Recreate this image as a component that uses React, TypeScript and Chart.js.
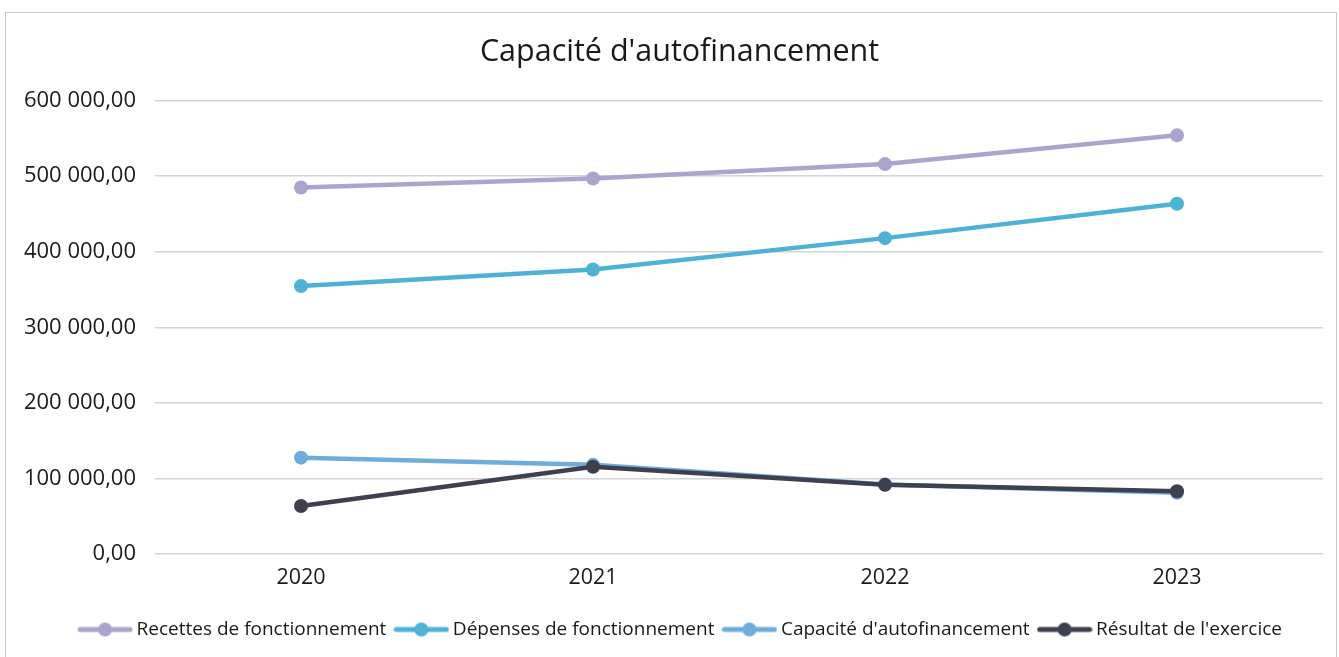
import React, { useEffect, useRef } from "react";
import { Chart, registerables } from "chart.js";

Chart.register(...registerables);

const categories = ["2020", "2021", "2022", "2023"];
const seriesNames = [
  "Recettes de fonctionnement",
  "Dépenses de fonctionnement",
  "Capacité d'autofinancement",
  "Résultat de l'exercice",
];
const recettes = [485000, 497000, 516000, 554000];
const depenses = [354500, 376500, 418000, 463500];
const capacite = [127500, 118000, 92000, 81000];
const resultat = [63500, 115500, 91500, 83000];
const yTicks = [0, 100000, 200000, 300000, 400000, 500000, 600000];
const colors = ["#aaa5cf", "#4eb2d6", "#6eaddb", "#3e4050"];

const FONT = "'Open Sans', 'DejaVu Sans', sans-serif";

function legendIcon(color: string) {
  const c = document.createElement("canvas");
  c.width = 56;
  c.height = 16;
  const ctx = c.getContext("2d")!;
  ctx.strokeStyle = color;
  ctx.lineWidth = 5;
  ctx.lineCap = "round";
  ctx.beginPath();
  ctx.moveTo(3, 8);
  ctx.lineTo(53, 8);
  ctx.stroke();
  ctx.fillStyle = color;
  ctx.beginPath();
  ctx.arc(28, 8, 7, 0, Math.PI * 2);
  ctx.fill();
  return c;
}

function fmt(v: number) {
  const s = Math.round(v).toString().replace(/\B(?=(\d{3})+(?!\d))/g, " ");
  return s + ",00";
}

const shiftBoxes = {
  id: "shiftBoxes",
  afterLayout(chart: any) {
    if (chart.legend) {
      chart.legend.left += 11;
      chart.legend.right += 11;
    }
    if (chart.titleBlock) {
      chart.titleBlock.left += 8;
      chart.titleBlock.right += 8;
    }
  },
};

export default function App() {
  const ref = useRef<HTMLCanvasElement>(null);
  useEffect(() => {
    const values = [recettes, depenses, capacite, resultat];
    const orders = [3, 2, 1, 0];
    const chart = new Chart(ref.current!, {
      type: "line",
      plugins: [shiftBoxes],
      data: {
        labels: categories,
        datasets: values.map((d, i) => ({
          label: seriesNames[i],
          data: d,
          borderColor: colors[i],
          backgroundColor: colors[i],
          borderWidth: 4.5,
          pointRadius: 7,
          pointHoverRadius: 7,
          pointBorderWidth: 0,
          pointBackgroundColor: colors[i],
          pointStyle: "circle",
          order: orders[i],
          tension: 0,
        })),
      },
      options: {
        animation: false,
        responsive: false,
        maintainAspectRatio: false,
        layout: { padding: { top: 12, left: 20, right: 16, bottom: 8 } },
        plugins: {
          title: {
            display: true,
            text: "Capacité d'autofinancement",
            color: "#1a1a1a",
            font: { family: FONT, size: 30.5, weight: "normal" },
            padding: { top: 22, bottom: 30 },
          },
          legend: {
            position: "bottom",
            labels: {
              usePointStyle: true,
              pointStyleWidth: 44,
              padding: 13,
              color: "#1a1a1a",
              font: { family: FONT, size: 19 },
              generateLabels: (ch: any) =>
                ch.data.datasets.map((ds: any, i: number) => ({
                  text: ds.label,
                  fillStyle: colors[i],
                  strokeStyle: colors[i],
                  lineWidth: 0,
                  pointStyle: legendIcon(colors[i]),
                  datasetIndex: i,
                  hidden: false,
                  fontColor: "#1a1a1a",
                })),
            },
          },
          tooltip: { enabled: false },
        },
        scales: {
          x: {
            offset: true,
            grid: { display: false, drawTicks: false },
            border: { display: false },
            ticks: {
              color: "#1a1a1a",
              font: { family: FONT, size: 21.5 },
              padding: 11,
            },
            afterFit: (s: any) => {
              s.height = 53;
            },
          },
          y: {
            min: 0,
            max: 600000,
            afterBuildTicks: (s: any) => {
              s.ticks = yTicks.map((v) => ({ value: v }));
            },
            grid: { color: "#d4d4d4", lineWidth: 1.5, drawTicks: false },
            border: { display: false },
            ticks: {
              color: "#1a1a1a",
              font: { family: FONT, size: 22 },
              padding: 19,
              callback: (v: any) => fmt(Number(v)),
            },
            afterFit: (s: any) => {
              s.width = 135;
            },
          },
        },
      },
    });
    return () => chart.destroy();
  }, []);
  return (
    <div style={{ position: "fixed", left: 0, top: 0, width: 1339, height: 657, background: "#fff" }}>
      <div
        style={{
          position: "absolute",
          left: 5,
          top: 12,
          width: 1332,
          height: 660,
          border: "1px solid #c8c8c8",
          boxSizing: "border-box",
        }}
      />
      <canvas ref={ref} width={1339} height={657} style={{ position: "absolute", left: 0, top: 0 }} />
    </div>
  );
}
